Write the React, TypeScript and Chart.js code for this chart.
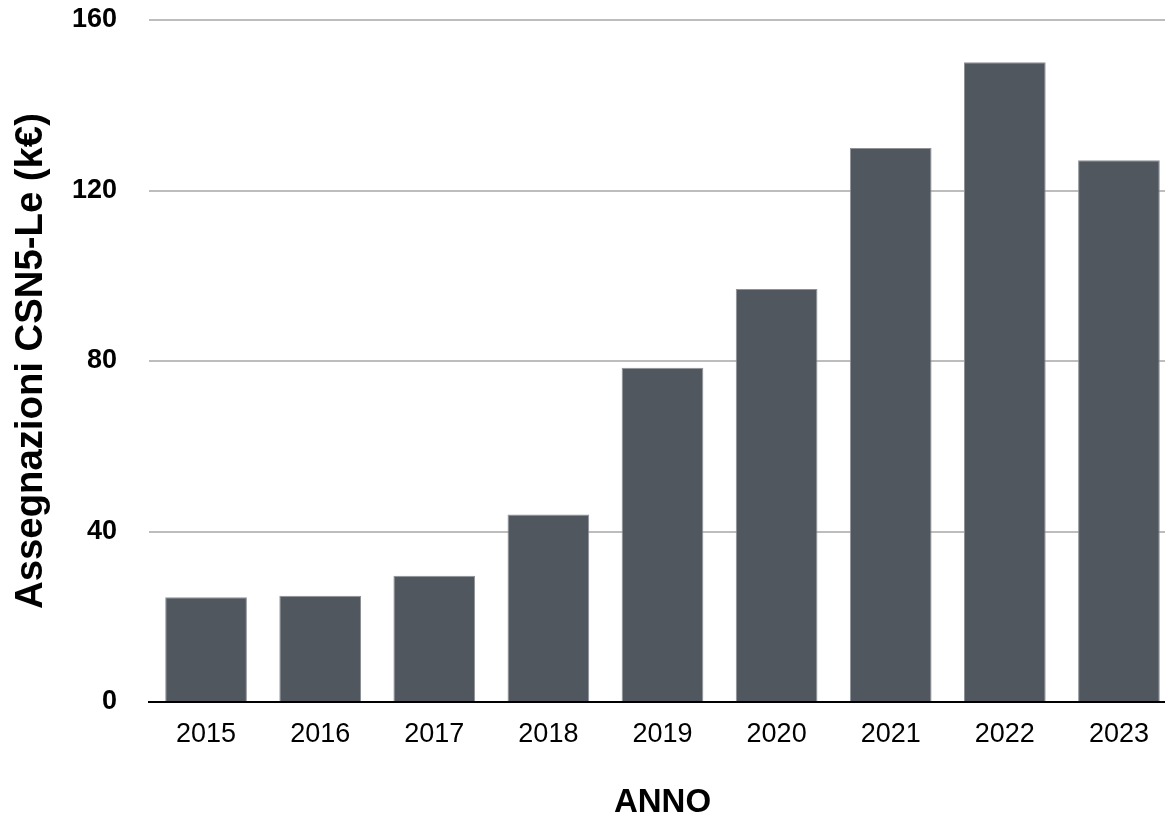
import React, { useEffect, useRef } from "react";
import { Chart, registerables } from "chart.js";

Chart.register(...registerables);

const years = ["2015", "2016", "2017", "2018", "2019", "2020", "2021", "2022", "2023"];
const assegnazioni = [24.6, 24.9, 29.6, 44.0, 78.4, 96.9, 130.0, 150.1, 127.1];
const yTicks = [0, 40, 80, 120, 160];

const FONT = "'Liberation Sans', Arial, Helvetica, sans-serif";

export default function App() {
  const ref = useRef<HTMLCanvasElement | null>(null);

  useEffect(() => {
    document.body.style.margin = "0";
    const canvas = ref.current;
    if (!canvas) return;
    const chart = new Chart(canvas, {
      type: "bar",
      data: {
        labels: years,
        datasets: [
          {
            data: assegnazioni,
            backgroundColor: "#51575f",
            borderColor: "#8e9297",
            borderWidth: 1,
            borderSkipped: "bottom",
            categoryPercentage: 1,
            barPercentage: 0.716,
          },
        ],
      },
      options: {
        animation: false,
        responsive: false,
        maintainAspectRatio: false,
        layout: { padding: { top: 20, left: 0, right: 0, bottom: 0 } },
        plugins: {
          legend: { display: false },
          tooltip: { enabled: false },
        },
        scales: {
          x: {
            afterFit: (s: any) => {
              s.height = 115;
              s.paddingLeft = 0;
              s.paddingRight = 0;
            },
            grid: { display: false, drawTicks: false },
            border: { display: true, color: "#000000", width: 2 },
            ticks: {
              color: "#000000",
              padding: 16.5,
              maxRotation: 0,
              font: { family: FONT, size: 27, weight: "normal" },
            },
            title: {
              display: true,
              text: "ANNO",
              color: "#000000",
              font: { family: FONT, size: 33, weight: "bold", lineHeight: 1 },
              padding: { top: 0, bottom: -2 },
            },
          },
          y: {
            min: 0,
            max: 160,
            afterFit: (s: any) => {
              s.width = 149;
              s.paddingTop = 0;
              s.paddingBottom = 0;
            },
            afterBuildTicks: (s: any) => {
              s.ticks = yTicks.map((v) => ({ value: v }));
            },
            grid: {
              drawTicks: false,
              color: (ctx: any) => (ctx.tick && ctx.tick.value === 0 ? "rgba(0,0,0,0)" : "#bdbdbd"),
              lineWidth: 2,
            },
            border: { display: false },
            ticks: {
              color: "#000000",
              padding: 32,
              font: { family: FONT, size: 27, weight: "bold" },
            },
            title: {
              display: true,
              text: "Assegnazioni CSN5-Le (k€)",
              color: "#000000",
              font: { family: FONT, size: 38.3, weight: "bold", lineHeight: 1 },
              padding: { top: 12, bottom: 0 },
            },
          },
        },
      },
    });
    return () => chart.destroy();
  }, []);

  return (
    <div style={{ width: 1165, height: 817, overflow: "hidden", position: "relative" }}>
      <canvas ref={ref} width={1176} height={817} style={{ width: 1176, height: 817, display: "block" }} />
    </div>
  );
}
